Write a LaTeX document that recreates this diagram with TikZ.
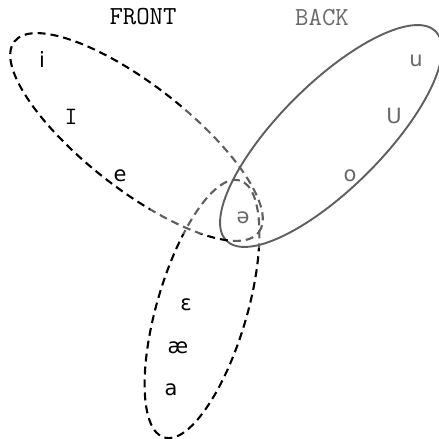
\documentclass[tikz,border=0pt]{standalone}
\usepackage{fontspec}
\newfontfamily\ipafnt{DejaVu Sans}
\definecolor{backgray}{RGB}{95,95,95}
\definecolor{txtgray}{RGB}{105,105,105}
\tikzset{
  dashedline/.style={line width=2.1pt, dash pattern=on 8pt off 5pt, line cap=butt},
  solidline/.style={line width=1.9pt, draw=backgray},
  vowel/.style={font=\ipafnt\fontsize{21}{21}\selectfont, inner sep=0pt},
  vowelgray/.style={vowel, text=txtgray},
  header/.style={font=\ttfamily\fontsize{26}{26}\selectfont, inner sep=0pt},
}
\begin{document}
\begin{tikzpicture}[x=1pt,y=-1pt]
\path[use as bounding box, fill=white] (0,0) rectangle (439,439);
% back ellipse (solid gray)
\draw[solidline, rotate around={45:(331,136)}] (331,136) ellipse [x radius=148pt, y radius=52pt];
% dashed ellipses: black outside gray zone
\begin{scope}[even odd rule]
  \clip (0,0) rectangle (439,439)
     (185,95) -- (300,95) -- (300,248) -- (230,248) -- (230,234) -- (150,234) -- (150,205) -- (185,205) -- cycle;
  \draw[dashedline, black, rotate around={-38:(136.5,137)}] (136.5,137) ellipse [x radius=155pt, y radius=52pt];
  \draw[dashedline, black, rotate around={73.6:(202,309)}] (202,309) ellipse [x radius=134pt, y radius=45pt];
\end{scope}
\begin{scope}
  \clip (185,95) -- (300,95) -- (300,248) -- (230,248) -- (230,234) -- (150,234) -- (150,205) -- (185,205) -- cycle;
  \draw[dashedline, backgray, rotate around={-38:(136.5,137)}] (136.5,137) ellipse [x radius=155pt, y radius=52pt];
  \draw[dashedline, backgray, rotate around={73.6:(202,309)}] (202,309) ellipse [x radius=134pt, y radius=45pt];
\end{scope}
% headers
\node[header] (front) at (143,17) {FRONT};
\node[header, text=txtgray] (back) at (322,18) {BACK};
% vowels
\node[vowel] (vi) at (42,60) {i};
\node[font=\ttfamily\fontsize{25}{25}\selectfont, inner sep=0pt] (vI) at (71,117) {I};
\node[vowel] (ve) at (120,176) {e};
\node[vowelgray] (vu) at (416,61) {u};
\node[vowelgray] (vU) at (394,116) {U};
\node[vowelgray] (vo) at (350,176) {o};
\node[vowelgray] (vschwa) at (243,218) {ə};
\node[vowel] (veps) at (186,305) {ɛ};
\node[vowel] (vae) at (178,348) {æ};
\node[vowel] (va) at (171,390) {a};
\end{tikzpicture}
\end{document}
